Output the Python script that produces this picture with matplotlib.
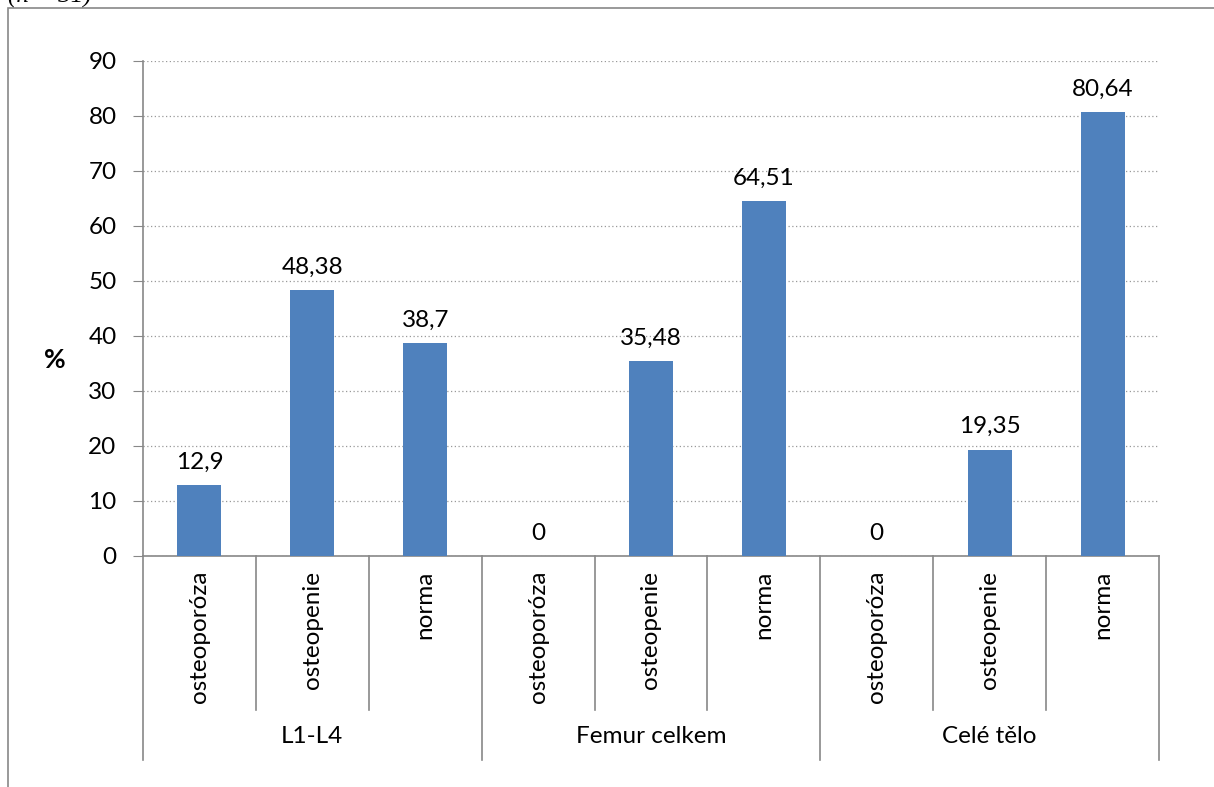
import matplotlib.pyplot as plt
from matplotlib.patches import Rectangle
from matplotlib.transforms import blended_transform_factory

# bone density categories per measurement site
groups = ['L1-L4', 'Femur celkem', 'Celé tělo']
classes = ['osteoporóza', 'osteopenie', 'norma']
l1_l4 = [12.9, 48.38, 38.7]
femur = [0, 35.48, 64.51]
cele_telo = [0, 19.35, 80.64]
values = l1_l4 + femur + cele_telo

plt.rcParams['font.family'] = ['Lato', 'DejaVu Sans']
fs = 17.5

fig = plt.figure(figsize=(12.14, 7.87), dpi=100)
ax = fig.add_axes([143 / 1214, 1 - 556 / 787, (1159 - 143) / 1214, (556 - 61) / 787])

x = list(range(len(values)))
ax.bar(x, values, width=0.39, color='#4F81BD', zorder=3)

for xi, v in zip(x, values):
    label = ('%g' % v).replace('.', ',')
    ax.annotate(label, (xi, v), xytext=(0, 9), textcoords='offset points',
                ha='center', va='bottom', fontsize=fs)

ax.set_xlim(-0.5, len(values) - 0.5)
ax.set_ylim(0, 90)
ax.set_yticks(range(0, 91, 10))
ax.tick_params(axis='y', labelsize=fs, length=7, color='#888888', pad=12)
ax.set_xticks([])
ax.grid(axis='y', linestyle=(0, (1, 2)), color='#999999', linewidth=0.9, zorder=0)

for side in ['top', 'right']:
    ax.spines[side].set_visible(False)
for side in ['left', 'bottom']:
    ax.spines[side].set_color('#888888')
    ax.spines[side].set_linewidth(1.2)

ax.set_ylabel('%', fontsize=19, fontweight='bold', rotation=0, va='center', ha='center')
ax.yaxis.set_label_coords(-0.087, 0.396)

# multi-level category axis below the plot
tr = blended_transform_factory(ax.transData, ax.transAxes)
for i in range(len(values) + 1):
    bottom = -0.412 if i % 3 == 0 else -0.311
    ax.plot([i - 0.5, i - 0.5], [0, bottom], transform=tr, color='#888888',
            linewidth=1.2, clip_on=False)

for xi in x:
    ax.text(xi, -0.03, classes[xi % 3], transform=tr, rotation=90,
            ha='center', va='top', fontsize=fs)

for gi, g in enumerate(groups):
    ax.text(gi * 3 + 1, -0.364, g, transform=tr, ha='center', va='center', fontsize=fs)

# outer frame and clipped caption
fig.patches.append(Rectangle((8 / 1214, -0.5), 2, 1 - 8 / 787 + 0.5,
                             transform=fig.transFigure, fill=False,
                             edgecolor='#888888', linewidth=1.2))
fig.text(8 / 1214, 1 - 3 / 787, '(n = 31)', fontsize=18, style='italic',
         family='Liberation Serif', va='baseline', ha='left')

plt.savefig('out.png', dpi=100)
